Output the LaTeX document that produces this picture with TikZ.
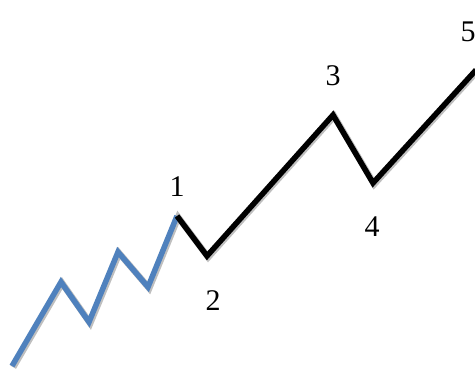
\documentclass[tikz,border=0pt]{standalone}
\usepackage{fontspec}
\setmainfont{Liberation Serif}
\definecolor{waveblue}{RGB}{79,129,189}
\tikzset{
	wave/.style={line width=5.5pt, line join=miter},
	shade/.style={line width=6.5pt, gray!50, line join=miter, transform canvas={shift={(1.2,1.2)}}},
	lbl/.style={font=\fontsize{30}{36}\selectfont, inner sep=0pt}
}
\begin{document}
\begin{tikzpicture}[x=1pt, y=-1pt]
	\useasboundingbox (0,0) rectangle (475,372);
	% small waves
	\coordinate (a0) at (12,366);
	\coordinate (a1) at (61,282);
	\coordinate (a2) at (89,322);
	\coordinate (a3) at (118,252);
	\coordinate (a4) at (148,287);
	% big waves
	\coordinate (w1) at (177,216);
	\coordinate (w2) at (207,256);
	\coordinate (w3) at (333,115);
	\coordinate (w4) at (373,183);
	\coordinate (w5) at (476,70);
	\draw[shade] (a0) -- (a1) -- (a2) -- (a3) -- (a4) -- (w1) -- (w2) -- (w3) -- (w4) -- (w5);
	\draw[wave, waveblue] (a0) -- (a1) -- (a2) -- (a3) -- (a4) -- (w1);
	\draw[wave, black] (w1) -- (w2) -- (w3) -- (w4) -- (w5);
	\node[lbl] (n1) at (177,187) {1};
	\node[lbl] (n2) at (213,301) {2};
	\node[lbl] (n3) at (333,76) {3};
	\node[lbl] (n4) at (372,227) {4};
	\node[lbl] (n5) at (468,32) {5};
\end{tikzpicture}
\end{document}
